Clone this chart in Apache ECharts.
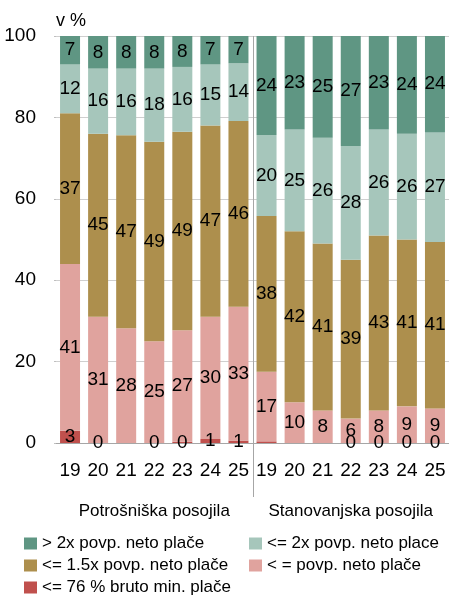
<!DOCTYPE html>
<html>
<head>
<meta charset="utf-8">
<script src="https://cdn.jsdelivr.net/npm/echarts@6/dist/echarts.min.js"></script>
<style>
  html, body { margin: 0; padding: 0; background: #fff; }
  #chart { width: 449px; height: 597px; }
</style>
</head>
<body>
<div id="chart"></div>
<script>
// Year labels for the two loan groups (7 years each)
const years = ['19', '20', '21', '22', '23', '24', '25'];
const groups = ['Potrošniška posojila', 'Stanovanjska posojila'];
const categories = years.concat(years);
const yTicks = [0, 20, 40, 60, 80, 100];

// Shares of borrowers by income bracket, v % (consumer loans then housing loans)
const minWage   = [3, 0, null, 0, 0.3, 1, 0.6,            0.4, null, null, 0, 0, 0, 0];
const belowAvg  = [41, 31, 28.2, 25, 27.4, 30, 32.9,      17.1, 10, 8, 6, 8, 9, 8.5];
const upTo15    = [37, 45, 47.4, 49, 48.8, 47, 45.6,      38.3, 42, 41, 39, 43, 41, 40.9];
const upTo2     = [12, 16, 16.4, 18, 15.9, 15, 14.2,      19.9, 25, 26, 28, 26, 26, 26.9];
const above2    = [7, 8, 8.0, 8, 7.6, 7, 6.7,             24.3, 23, 25, 27, 23, 24, 23.7];
// bars whose value label is left out
const hiddenMinWageLabels = [7];

const names = {
  minWage: '<= 76 % bruto min. plače',
  belowAvg: '< = povp. neto plače',
  upTo15: '<= 1.5x povp. neto plače',
  upTo2: '<= 2x povp. neto place',
  above2: '> 2x povp. neto plače'
};
const colors = {
  minWage: '#c0504d',
  belowAvg: '#e0a39e',
  upTo15: '#ad8f4d',
  upTo2: '#a6c6bb',
  above2: '#5f9683'
};

const narrow = '"Liberation Sans Narrow", "Liberation Sans", Arial, sans-serif';
const regular = '"Liberation Sans", Arial, sans-serif';

function makeSeries(key, values, hidden) {
  return {
    name: names[key],
    type: 'bar',
    stack: 'total',
    barWidth: 20,
    itemStyle: { color: colors[key] },
    label: {
      show: true,
      position: 'inside',
      color: '#000',
      fontFamily: narrow,
      fontSize: 19,
      formatter: p => (p.value == null ? '' : String(Math.round(p.value)))
    },
    data: values.map((v, i) => {
      if (hidden && hidden.indexOf(i) >= 0) {
        return { value: v, label: { show: false } };
      }
      return v;
    })
  };
}

const legendBase = {
  orient: 'vertical',
  top: 535,
  height: 62,
  padding: 0,
  itemWidth: 13,
  itemHeight: 12,
  itemGap: 5,
  icon: 'rect',
  selectedMode: false,
  textStyle: { fontFamily: regular, fontSize: 17, color: '#000' }
};

const chart = echarts.init(document.getElementById('chart'), null, { renderer: 'canvas' });

const option = {
  animation: false,
  grid: { left: 56, right: -5, top: 36, bottom: 154, containLabel: false },
  legend: [
    Object.assign({}, legendBase, { left: 24, data: [names.above2, names.upTo15, names.minWage] }),
    Object.assign({}, legendBase, { left: 249, data: [names.upTo2, names.belowAvg] })
  ],
  xAxis: [
    {
      type: 'category',
      data: categories,
      axisLine: { show: true, lineStyle: { color: '#a6a6a6', width: 1 } },
      axisTick: { show: false },
      axisLabel: { color: '#000', fontFamily: narrow, fontSize: 19, margin: 18, interval: 0 }
    },
    {
      type: 'category',
      data: groups,
      position: 'bottom',
      offset: 52,
      axisLine: { show: false },
      axisTick: { show: false },
      splitLine: { show: false },
      axisLabel: { color: '#000', fontFamily: regular, fontSize: 17, margin: 8, interval: 0 }
    }
  ],
  yAxis: {
    type: 'value',
    min: yTicks[0],
    max: yTicks[yTicks.length - 1],
    interval: yTicks[1] - yTicks[0],
    name: 'v %',
    nameLocation: 'end',
    nameGap: 6,
    nameTextStyle: { color: '#000', fontFamily: narrow, fontSize: 18, align: 'left', padding: [0, 0, 0, 0] },
    axisLine: { show: false },
    axisTick: { show: true, length: 2, lineStyle: { color: '#bfbfbf' } },
    splitLine: { lineStyle: { color: '#cfcfcf', width: 1 } },
    axisLabel: { color: '#000', fontFamily: narrow, fontSize: 19, margin: 20 }
  },
  series: [
    makeSeries('minWage', minWage, hiddenMinWageLabels),
    makeSeries('belowAvg', belowAvg),
    makeSeries('upTo15', upTo15),
    makeSeries('upTo2', upTo2),
    makeSeries('above2', above2)
  ]
};

chart.setOption(option);

// Vertical divider between the two loan groups, placed from the axis scales
const xLeft = chart.convertToPixel({ xAxisIndex: 0 }, years.length - 1);
const xRight = chart.convertToPixel({ xAxisIndex: 0 }, years.length);
const xDiv = Math.round((xLeft + xRight) / 2) + 0.5;
const yTop = chart.convertToPixel({ yAxisIndex: 0 }, yTicks[yTicks.length - 1]);
const yBase = chart.convertToPixel({ yAxisIndex: 0 }, yTicks[0]);
chart.setOption({
  graphic: [{
    type: 'line',
    z: 10,
    shape: { x1: xDiv, y1: yTop, x2: xDiv, y2: yBase + 54 },
    style: { stroke: '#a6a6a6', lineWidth: 1 }
  }]
});
</script>
</body>
</html>
